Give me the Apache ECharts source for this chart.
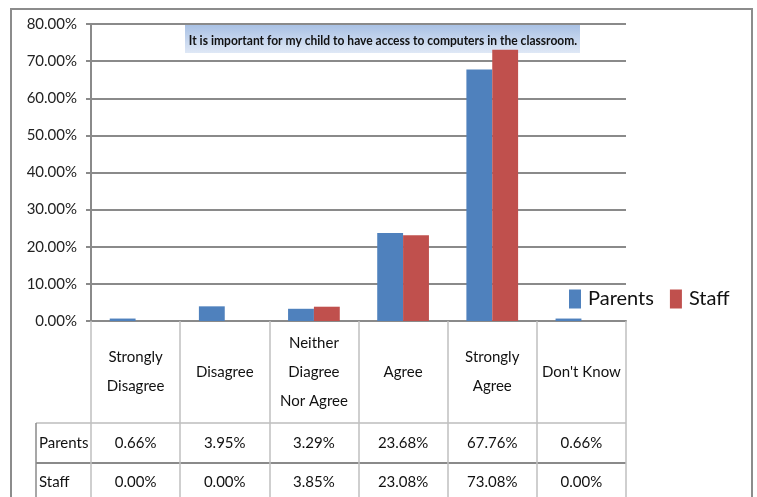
<!DOCTYPE html>
<html>
<head>
<meta charset="utf-8">
<script src="https://cdn.jsdelivr.net/npm/echarts@6/dist/echarts.min.js"></script>
<style>
  html, body { margin: 0; padding: 0; background: #fff; }
  #main { width: 757px; height: 497px; }
</style>
</head>
<body>
<div id="main"></div>
<script>
var categories = ['Strongly\nDisagree', 'Disagree', 'Neither\nDiagree\nNor Agree', 'Agree', 'Strongly\nAgree', "Don't Know"];
var seriesNames = ['Parents', 'Staff'];
var parents = [0.66, 3.95, 3.29, 23.68, 67.76, 0.66];
var staff = [0.00, 0.00, 3.85, 23.08, 73.08, 0.00];
var titleText = 'It is important for my child to have access to computers in the classroom.';

var font = "Lato, 'Liberation Sans', sans-serif";
var pct = function (v) { return v.toFixed(2) + '%'; };

var chart = echarts.init(document.getElementById('main'));

var option = {
    animation: false,
    color: ['#4f81bd', '#c0504d'],
    grid: { left: 91, right: 131, top: 24, bottom: 176, containLabel: false },
    legend: {
        data: seriesNames,
        left: 569,
        top: 289,
        padding: 0,
        icon: 'rect',
        itemWidth: 12,
        itemHeight: 19,
        itemGap: 16,
        textStyle: { fontSize: 20, fontFamily: font, color: '#111', padding: [0, 0, 0, 2] }
    },
    graphic: [
        { type: 'rect', shape: { x: 11, y: 9, width: 741, height: 500 },
          style: { fill: 'none', stroke: '#8c8c8c', lineWidth: 2 }, silent: true },
        { type: 'line', shape: { x1: 36, y1: 423, x2: 626, y2: 423 },
          style: { stroke: '#bdbdbd', lineWidth: 1.5 }, silent: true },
        { type: 'line', shape: { x1: 36, y1: 463, x2: 626, y2: 463 },
          style: { stroke: '#8a8a8a', lineWidth: 2 }, silent: true },
        { type: 'line', shape: { x1: 36, y1: 423, x2: 36, y2: 497 },
          style: { stroke: '#8a8a8a', lineWidth: 1.5 }, silent: true },
        { type: 'text', x: 39, y: 443,
          style: { text: seriesNames[0], fontSize: 15, fontFamily: font, fill: '#111', verticalAlign: 'middle' } },
        { type: 'text', x: 39, y: 482,
          style: { text: seriesNames[1], fontSize: 15, fontFamily: font, fill: '#111', verticalAlign: 'middle' } },
        { type: 'rect', shape: { x: 185, y: 25, width: 395, height: 28 }, silent: true,
          style: { fill: new echarts.graphic.LinearGradient(0, 0, 0, 1, [
              { offset: 0, color: '#a9c1e4' }, { offset: 1, color: '#dfe8f6' }]) } },
        { type: 'text', x: 383, y: 40, scaleX: 0.86, silent: true,
          style: { text: titleText, fontSize: 14, fontWeight: 'bold', fontFamily: font,
                   fill: '#111', align: 'center', verticalAlign: 'middle' } }
    ],
    xAxis: [
        {
            type: 'category',
            data: categories,
            axisLine: { lineStyle: { color: '#8a8a8a', width: 2 } },
            axisTick: { show: true, length: 176, interval: 0, lineStyle: { color: '#c0c0c0', width: 1.5 } },
            axisLabel: { interval: 0, margin: 51, verticalAlign: 'middle', lineHeight: 29,
                         fontSize: 15, fontFamily: font, color: '#111' }
        },
        {
            type: 'category', position: 'bottom',
            data: parents.map(pct),
            axisLine: { show: false }, axisTick: { show: false },
            axisLabel: { interval: 0, margin: 122, verticalAlign: 'middle',
                         fontSize: 15, fontFamily: font, color: '#111' }
        },
        {
            type: 'category', position: 'bottom',
            data: staff.map(pct),
            axisLine: { show: false }, axisTick: { show: false },
            axisLabel: { interval: 0, margin: 161, verticalAlign: 'middle',
                         fontSize: 15, fontFamily: font, color: '#111' }
        }
    ],
    yAxis: {
        type: 'value',
        min: 0, max: 80, interval: 10,
        axisLine: { show: true, lineStyle: { color: '#8a8a8a', width: 2 } },
        axisTick: { show: true, length: 5, lineStyle: { color: '#8a8a8a', width: 2 } },
        axisLabel: { formatter: pct, margin: 14, fontSize: 15, fontFamily: font, color: '#222' },
        splitLine: { lineStyle: { color: '#8a8a8a', width: 2 } }
    },
    series: [
        { name: seriesNames[0], type: 'bar', data: parents, barGap: '0%', barCategoryGap: '42%' },
        { name: seriesNames[1], type: 'bar', data: staff, barGap: '0%', barCategoryGap: '42%' }
    ]
};

chart.setOption(option);
</script>
</body>
</html>
